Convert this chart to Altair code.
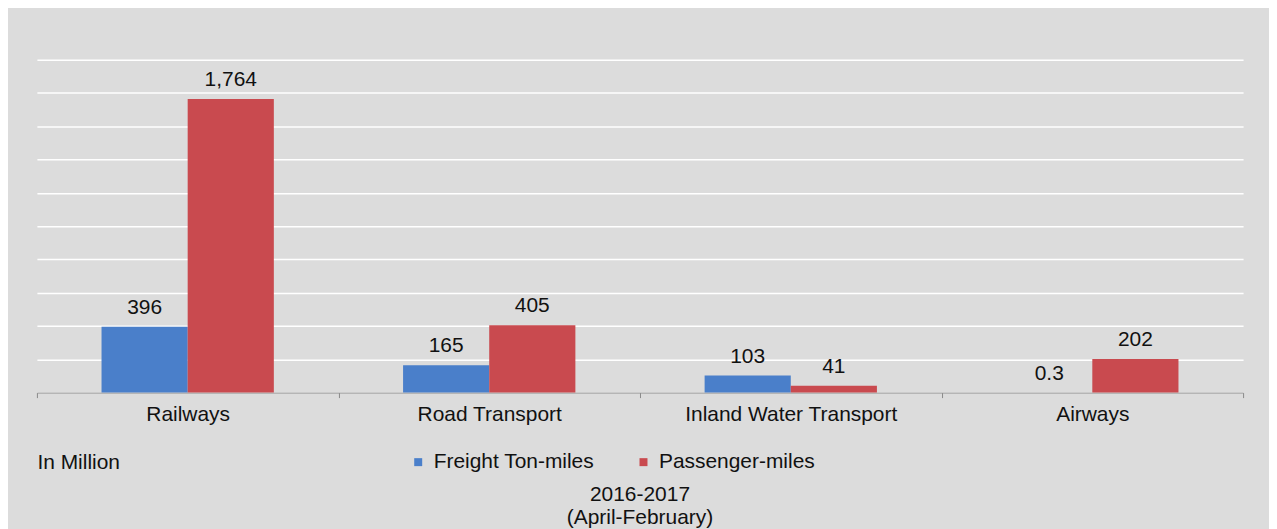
import altair as alt
import pandas as pd

categories = ["Railways", "Road Transport", "Inland Water Transport", "Airways"]
series = ["Freight Ton-miles", "Passenger-miles"]
freight = [396, 165, 103, 0.3]
passenger = [1764, 405, 41, 202]
grid_values = [0, 200, 400, 600, 800, 1000, 1200, 1400, 1600, 1800, 2000]
colors = ["#4a7fca", "#c94a4f"]

rows = []
for i, c in enumerate(categories):
    rows.append({"mode": c, "series": series[0], "value": freight[i]})
    rows.append({"mode": c, "series": series[1], "value": passenger[i]})
df = pd.DataFrame(rows)

FONT = "Liberation Sans"
FS = 21

x = alt.X(
    "mode:N", sort=categories,
    scale=alt.Scale(paddingInner=0, paddingOuter=0),
    axis=alt.Axis(title=None, labelAngle=0, labelFontSize=FS, labelColor="#111111",
                  labelFont=FONT, tickBand="extent", domainColor="#8a8a8a",
                  tickColor="#8a8a8a", tickSize=5, labelPadding=6, labelLimit=0,
                  grid=False),
)
xo = alt.XOffset("series:N", sort=series,
                 scale=alt.Scale(paddingInner=0, paddingOuter=0.75))
y = alt.Y(
    "value:Q", scale=alt.Scale(domain=[0, 2000], nice=False),
    axis=alt.Axis(values=grid_values, labels=False, ticks=False, domain=False,
                  gridColor="#ffffff", gridWidth=1.5, title="In Million",
                  titleAngle=0, titleX=0, titleY=404, titleAlign="left",
                  titleBaseline="middle", titleFontSize=FS, titleFont=FONT,
                  titleFontWeight="normal", titleColor="#111111"),
)
color = alt.Color(
    "series:N", sort=series, scale=alt.Scale(domain=series, range=colors),
    legend=alt.Legend(orient="none", legendX=372, legendY=393, direction="horizontal",
                      title=None, symbolType="square", symbolSize=64,
                      symbolStrokeWidth=0, labelFontSize=FS, labelFont=FONT,
                      labelColor="#111111", columnPadding=38, labelOffset=5,
                      labelLimit=0, padding=0),
)

base = alt.Chart(df).encode(x=x, xOffset=xo, y=y)
bars = base.mark_bar().encode(color=color)
labels = base.mark_text(baseline="middle", dy=-19, fontSize=FS, font=FONT,
                        color="#111111").encode(text=alt.Text("value:Q", format=","))

chart = alt.layer(bars, labels).properties(
    width=1210, height=334,
    autosize=alt.AutoSizeParams(type="none"),
    padding={"left": 29, "top": 51, "right": 26, "bottom": 140},
    title=alt.TitleParams(["2016-2017", "(April-February)"], orient="bottom",
                          anchor="middle", fontSize=FS, font=FONT,
                          fontWeight="normal", lineHeight=23, offset=12,
                          color="#111111"),
    background="#dcdcdc",
).configure_view(stroke=None)

chart.save("out.html", embed_options={"renderer": "svg", "actions": False})
